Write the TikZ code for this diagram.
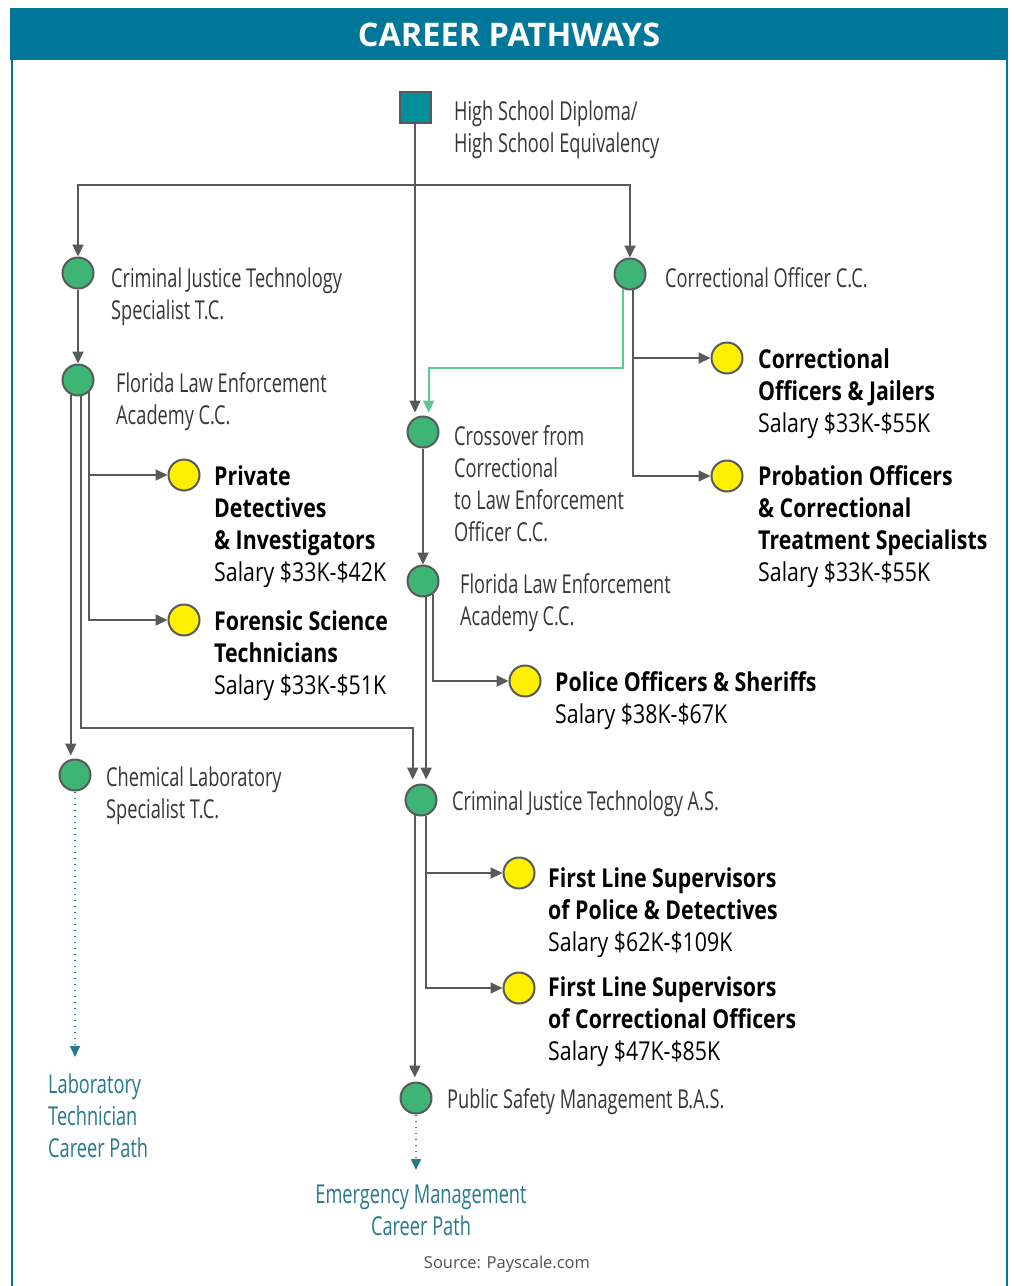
\documentclass[tikz,border=0pt]{standalone}
\usepackage{fontspec}
\setmainfont{Open Sans}
\newfontfamily\lblfont{Open Sans}[FakeStretch=0.70]
\newfontfamily\salfont{Open Sans}[FakeStretch=0.82]
\newfontfamily\jobfont{Open Sans}[FakeStretch=0.82]
\usepackage{tikz}
\usetikzlibrary{arrows.meta}

\definecolor{ttlteal}{RGB}{0,119,153}
\definecolor{linegray}{RGB}{88,89,91}
\definecolor{lbltext}{RGB}{55,55,57}
\definecolor{nodegreen}{RGB}{62,180,117}
\definecolor{jobyellow}{RGB}{255,240,0}
\definecolor{sqteal}{RGB}{0,145,155}
\definecolor{pathteal}{RGB}{40,120,140}
\definecolor{xgreen}{RGB}{95,200,145}
\definecolor{srcgray}{RGB}{80,80,80}

\newcommand{\job}[1]{{\jobfont\bfseries #1}}

\begin{document}
\begin{tikzpicture}[x=1pt,y=-1pt,
  stop/.style={circle,draw=linegray,line width=2pt,fill=nodegreen,minimum size=31pt,inner sep=0pt},
  jobdot/.style={stop,fill=jobyellow},
  lbl/.style={anchor=base west,inner sep=0pt,align=left,text=lbltext,font=\lblfont\fontsize{26}{32}\selectfont},
  joblbl/.style={lbl,text=black,font=\salfont\fontsize{26}{32}\selectfont},
  pathlbl/.style={lbl,text=pathteal},
  arr/.style={draw=linegray,line width=2pt,-{Triangle[length=12pt,width=11pt]}},
  xarr/.style={arr,draw=xgreen},
  dotarr/.style={draw=pathteal,line width=1.5pt,dash pattern=on 1.5pt off 4.5pt,-{Triangle[length=11pt,width=10pt]}}]
             \useasboundingbox (0,0) rectangle (1013,1286);
             \fill[white] (0,0) rectangle (1013,1286);

             % header and frame
             \fill[ttlteal] (10,8) rectangle (1008,60);
             \node[text=white,font=\bfseries\fontsize{32.5}{36}\selectfont] (title) at (509,35) {CAREER PATHWAYS};
             \draw[ttlteal,line width=2.5pt] (12,60) -- (12,1286);
             \draw[ttlteal,line width=2.5pt] (1007,60) -- (1007,1286);

             % stops
             \node[stop,rectangle,fill=sqteal] (hs) at (415,107) {};
             \node[stop] (cjts) at (78,273) {};
             \node[stop] (flea1) at (78,380) {};
             \node[stop] (chem) at (75,775) {};
             \node[stop] (co) at (630,274) {};
             \node[stop] (cross) at (423,432) {};
             \node[stop] (flea2) at (423,581) {};
             \node[stop] (cjtas) at (421,800) {};
             \node[stop] (psm) at (416,1098) {};

             \node[jobdot] (pdi) at (184,475) {};
             \node[jobdot] (fst) at (184,620) {};
             \node[jobdot] (coj) at (727,358) {};
             \node[jobdot] (pocts) at (727,476) {};
             \node[jobdot] (pos) at (525,681) {};
             \node[jobdot] (flspd) at (519,873) {};
             \node[jobdot] (flsco) at (519,988) {};

             \coordinate (split) at (415,185);
             \coordinate (labend) at (75,1057);
             \coordinate (emend) at (416,1170);

             % labels (base = last line)
             \node[lbl] (hs-t) at (454,152) {High School Diploma/\\High School Equivalency};
             \node[lbl] (cjts-t) at (111,319) {Criminal Justice Technology\\Specialist T.C.};
             \node[lbl] (flea1-t) at (116,424) {Florida Law Enforcement\\Academy C.C.};
             \node[lbl] (chem-t) at (106,818) {Chemical Laboratory\\Specialist T.C.};
             \node[lbl] (co-t) at (665,287) {Correctional Officer C.C.};
             \node[lbl] (cross-t) at (454,541) {Crossover from\\Correctional\\to Law Enforcement\\Officer C.C.};
             \node[lbl] (flea2-t) at (460,625) {Florida Law Enforcement\\Academy C.C.};
             \node[lbl] (cjtas-t) at (452,810) {Criminal Justice Technology A.S.};
             \node[lbl] (psm-t) at (447,1108) {Public Safety Management B.A.S.};

             \node[joblbl] (pdi-t) at (214,581) {\job{Private}\\\job{Detectives}\\\job{\& Investigators}\\Salary \$33K-\$42K};
             \node[joblbl] (fst-t) at (214,694) {\job{Forensic Science}\\\job{Technicians}\\Salary \$33K-\$51K};
             \node[joblbl] (coj-t) at (758,432) {\job{Correctional}\\\job{Officers \& Jailers}\\Salary \$33K-\$55K};
             \node[joblbl] (pocts-t) at (758,581) {\job{Probation Officers}\\\job{\& Correctional}\\\job{Treatment Specialists}\\Salary \$33K-\$55K};
             \node[joblbl] (pos-t) at (555,723) {\job{Police Officers \& Sheriffs}\\Salary \$38K-\$67K};
             \node[joblbl] (flspd-t) at (548,951) {\job{First Line Supervisors}\\\job{of Police \& Detectives}\\Salary \$62K-\$109K};
             \node[joblbl] (flsco-t) at (548,1060) {\job{First Line Supervisors}\\\job{of Correctional Officers}\\Salary \$47K-\$85K};

             \node[pathlbl] (lab-t) at (48,1157) {Laboratory\\Technician\\Career Path};
             \node[pathlbl,anchor=base,align=center] (em-t) at (421,1235) {Emergency Management\\Career Path};
             \node[anchor=base,inner sep=0pt,text=srcgray,font=\fontsize{16.5}{20}\selectfont] (src) at (507,1268) {Source: Payscale.com};

             % connectors
             \draw[arr,shorten >=3pt] (hs) -- (hs |- cross.north);
             \draw[arr] (split) -| (cjts);
             \draw[arr] (split) -| (co);
             \draw[arr] (cjts) -- (flea1);

             \draw[arr] (flea1.-116) -- ([yshift=3pt]flea1.-116 |- chem.north);
             \draw[arr] (flea1.-79) -- ++(0,332) -| ([yshift=4pt]cjtas.-120 |- cjtas.north);
             \draw[arr] (flea1.-47) |- (pdi);
             \draw[arr] (flea1.-47) |- (fst);

             \draw[arr] (co.-79) |- (coj);
             \draw[arr] (co.-79) |- (pocts);
             \draw[xarr] (co.-116) -- ++(0,79) -| ([yshift=3pt]cross.-70 |- cross.north);

             \draw[arr] (cross) -- (flea2);
             \draw[arr] (flea2.-79) -- ([yshift=4pt]flea2.-79 |- cjtas.north);
             \draw[arr] (flea2.-51) |- (pos);

             \draw[arr] (cjtas.-112) -- ([yshift=4pt]cjtas.-112 |- psm.north);
             \draw[arr] (cjtas.-72) |- (flspd);
             \draw[arr] (cjtas.-72) |- (flsco);

             \draw[dotarr] (chem) -- (labend);
             \draw[dotarr] (psm) -- (emend);
\end{tikzpicture}
\end{document}
